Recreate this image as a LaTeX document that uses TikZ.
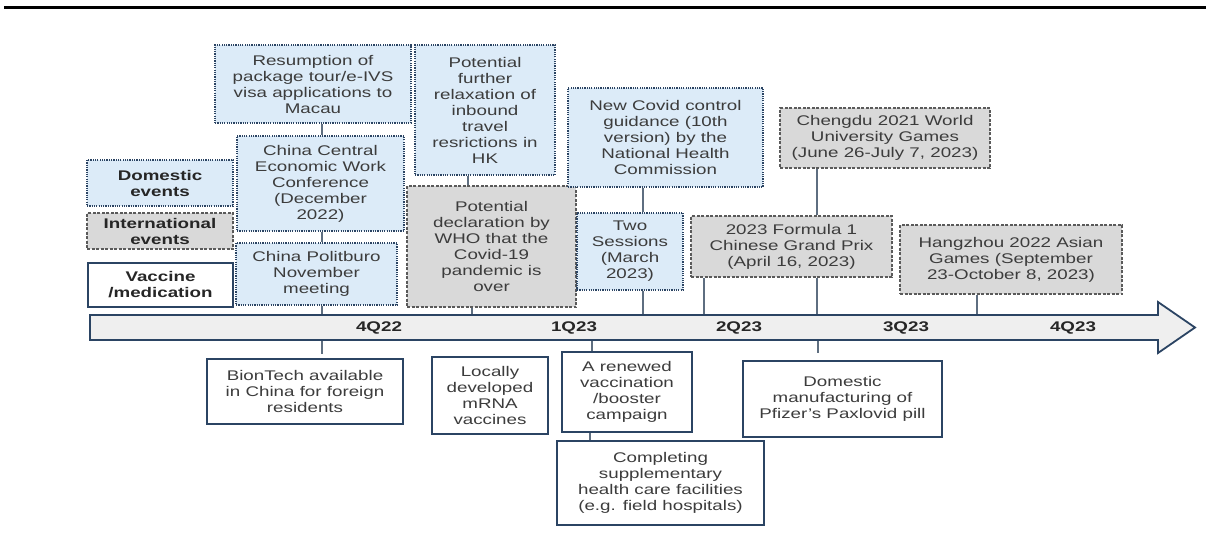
\documentclass[tikz,border=0pt]{standalone}
\usepackage{fontspec}
\setmainfont{Liberation Sans}[FakeStretch=1.34]
\definecolor{dblue}{HTML}{DCEBF8}
\definecolor{navy}{HTML}{2B4463}
\definecolor{gfill}{HTML}{D9D9D9}
\definecolor{gline}{HTML}{5A5A5A}
\definecolor{txt}{HTML}{3C3C3C}
\definecolor{connc}{HTML}{5E6E80}
\definecolor{afill}{HTML}{EFEFEF}
\tikzset{
 base/.style={inner sep=1pt, align=center, text=txt, font=\fontsize{14}{16}\selectfont},
 dom/.style={base, fill=dblue, draw=navy, line width=1.4pt, dash pattern=on 1.2pt off 1.1pt},
 intl/.style={base, fill=gfill, draw=gline, line width=1.4pt, dash pattern=on 3pt off 1.5pt},
 vac/.style={base, fill=white, draw=navy, line width=1.8pt},
 legtext/.style={font=\fontsize{14}{16}\selectfont\bfseries, text=black!85},
 connline/.style={draw=connc, line width=1.4pt},
 qlabel/.style={font=\fontsize{14}{16}\selectfont\bfseries, text=black!85, inner sep=0pt},
 sz/.style 2 args={minimum width=#1, minimum height=#2},
}
\begin{document}
\begin{tikzpicture}[x=1pt,y=-1pt]
\useasboundingbox[fill=white] (0,0) rectangle (1210,541);
% top rule
\draw[line width=3pt] (4,7) -- (1206,7);

% axis coordinates
\coordinate (a1) at (322,315);
\coordinate (a2) at (472,315);
\coordinate (a3) at (643,315);
\coordinate (a4) at (704,315);
\coordinate (a5) at (817,315);
\coordinate (a6) at (977,315);
\coordinate (b1) at (322,340);
\coordinate (b2) at (592,340);
\coordinate (b3) at (818,340);
\coordinate (e1) at (322,354);
\coordinate (e3) at (818,353);

% legend
\node[dom, legtext, sz={146}{46}] (legdom) at (160,183) {Domestic\\events};
\node[intl, legtext, sz={146}{36}] (legint) at (160,231) {International\\events};
\node[vac, legtext, sz={145}{44}] (legvac) at (160.5,285) {Vaccine\\/medication};

% top boxes
\node[dom, sz={196}{78}] (resump) at (313,84) {Resumption of\\package tour/e-IVS\\visa applications to\\Macau};
\node[dom, sz={167}{95}] (central) at (320.5,183.5) {China Central\\Economic Work\\Conference\\(December\\2022)};
\node[dom, sz={161}{62}] (polit) at (316.5,274) {China Politburo\\November\\meeting};
\node[dom, sz={140}{130}] (potential) at (485,110) {Potential\\further\\relaxation of\\inbound\\travel\\resrictions in\\HK};
\node[intl, sz={169}{121}] (who) at (491.5,246.5) {Potential\\declaration by\\WHO that the\\Covid-19\\pandemic is\\over};
\node[dom, sz={195}{99}] (newcovid) at (665.5,137.5) {New Covid control\\guidance (10th\\version) by the\\National Health\\Commission};
\node[dom, sz={106}{77}] (twosess) at (630,251.5) {Two\\Sessions\\(March\\2023)};
\node[intl, sz={210}{60}] (chengdu) at (885,138) {Chengdu 2021 World\\University Games\\(June 26-July 7, 2023)};
\node[intl, sz={201}{61}] (f1) at (791.5,246.5) {2023 Formula 1\\Chinese Grand Prix\\(April 16, 2023)};
\node[intl, sz={222}{69}] (hangzhou) at (1011,259.5) {Hangzhou 2022 Asian\\Games (September\\23-October 8, 2023)};

% bottom boxes
\node[vac, sz={196}{65}] (biontech) at (305,391.5) {BionTech available\\in China for foreign\\residents};
\node[vac, sz={116}{77}] (locally) at (490,395.5) {Locally\\developed\\mRNA\\vaccines};
\node[vac, sz={130}{80}] (renewed) at (627,392) {A renewed\\vaccination\\/booster\\campaign};
\node[vac, sz={207}{84}] (completing) at (660.5,483) {Completing\\supplementary\\health care facilities\\(e.g. field hospitals)};
\node[vac, sz={199}{76}] (paxlovid) at (842.5,399) {Domestic\\manufacturing of\\Pfizer's Paxlovid pill};

% connectors
\draw[connline] (resump.south -| a1) -- (central.north -| a1);
\draw[connline] (central.south -| a1) -- (polit.north -| a1);
\draw[connline] (polit.south -| a1) -- (a1);
\draw[connline] (potential.south -| 468,0) -- (who.north -| 468,0);
\draw[connline] (who.south -| a2) -- (a2);
\draw[connline] (newcovid.south -| a3) -- (twosess.north -| a3);
\draw[connline] (twosess.south -| a3) -- (a3);
\draw[connline] (chengdu.south -| a5) -- (f1.north -| a5);
\draw[connline] (f1.south -| a5) -- (a5);
\draw[connline] (f1.south -| a4) -- (a4);
\draw[connline] (hangzhou.south -| a6) -- (a6);
\draw[connline] (b1) -- (e1);
\draw[connline] (b2) -- (renewed.north -| b2);
\draw[connline] (renewed.south -| 590,0) -- (completing.north -| 590,0);
\draw[connline] (b3) -- (e3);

% axis arrow
\draw[navy, line width=1.8pt, fill=afill, line join=miter]
  (90,315) -- (1158,315) -- (1158,302) -- (1195,327.5) -- (1158,353) -- (1158,340) -- (90,340) -- cycle;
\node[qlabel] (q1) at (379,327.5) {4Q22};
\node[qlabel] (q2) at (574,327.5) {1Q23};
\node[qlabel] (q3) at (739,327.5) {2Q23};
\node[qlabel] (q4) at (906,327.5) {3Q23};
\node[qlabel] (q5) at (1073,327.5) {4Q23};
\end{tikzpicture}
\end{document}
